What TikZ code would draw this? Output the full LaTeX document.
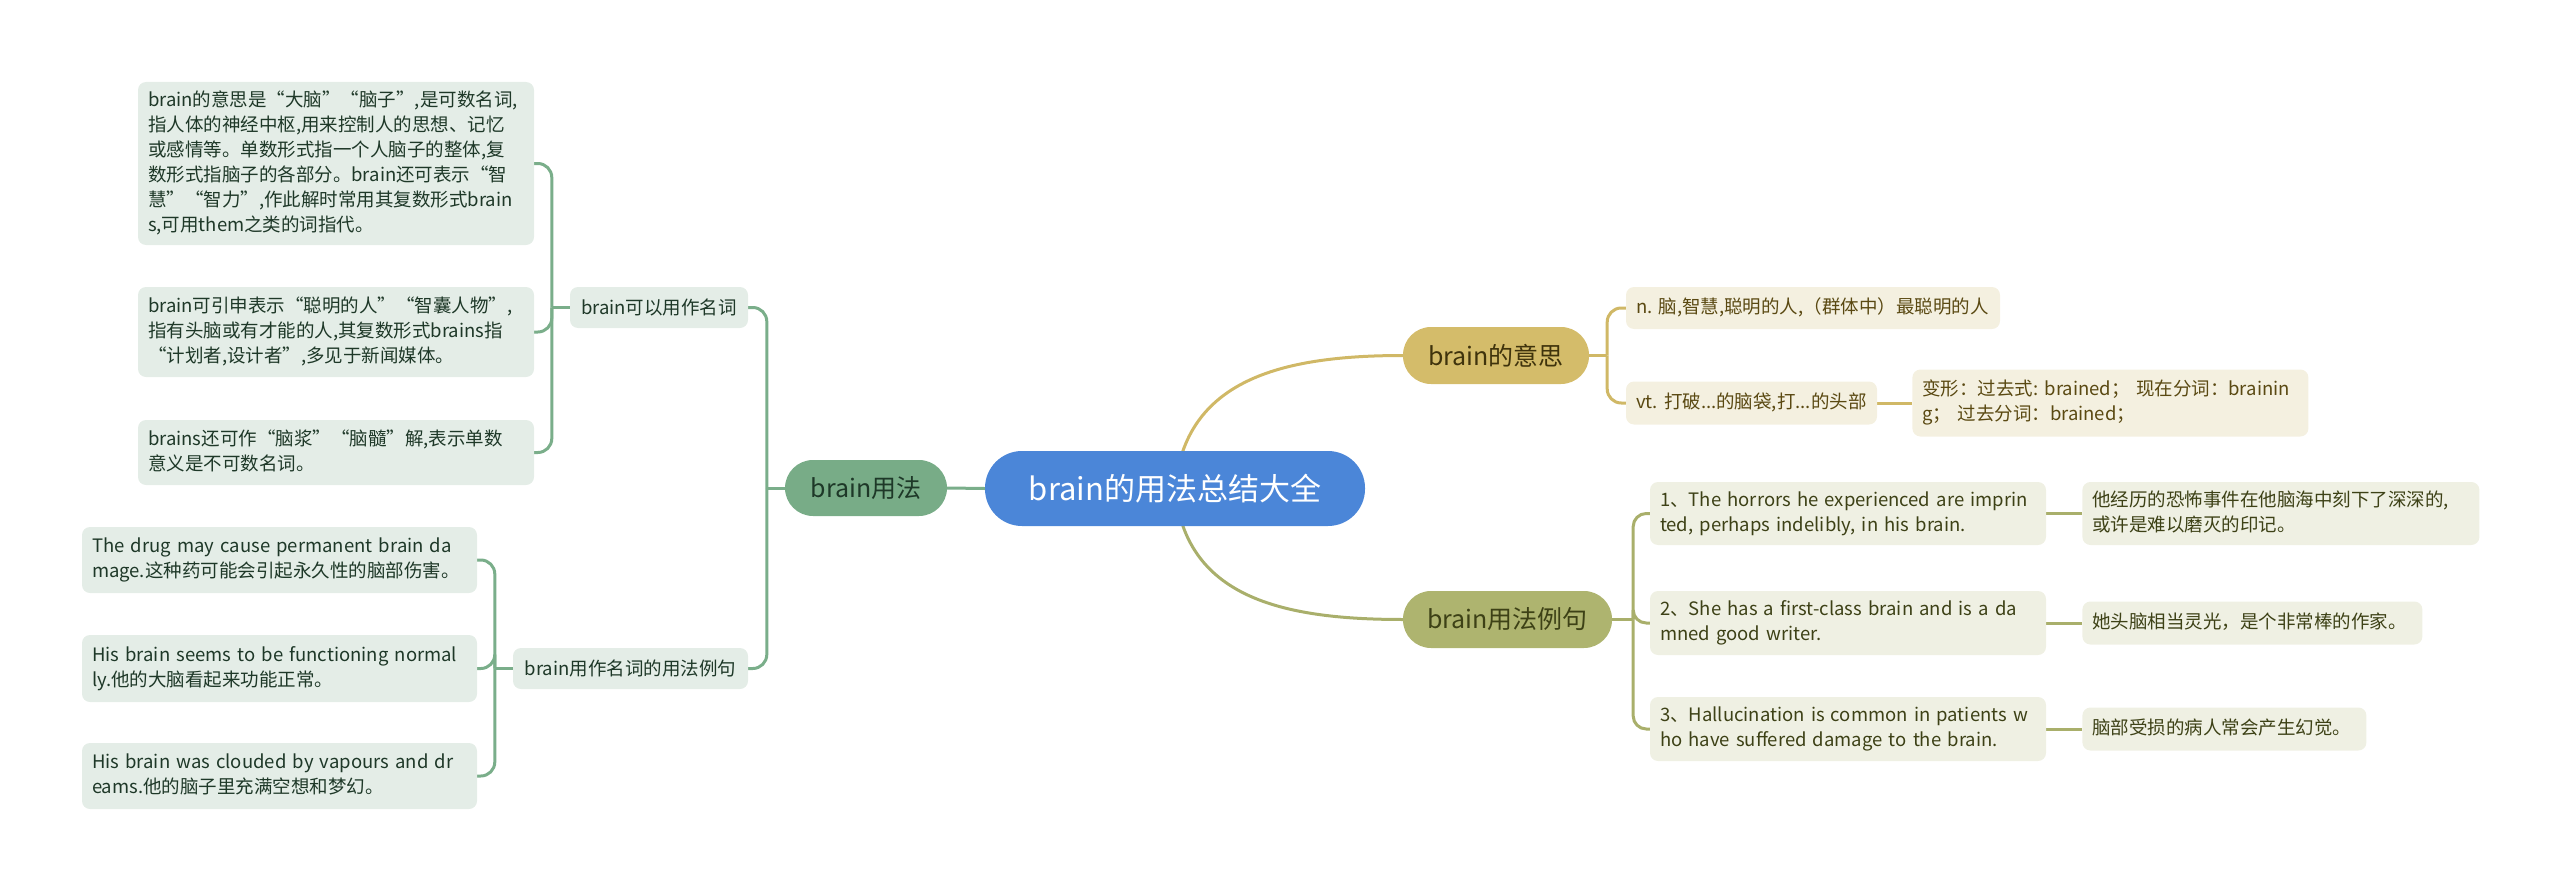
\documentclass[tikz,border=0pt]{standalone}
\usepackage{fontspec}
\setmainfont{Noto Sans CJK SC}
\usepackage{tikz}
\usetikzlibrary{positioning,backgrounds,calc}
\frenchspacing
\definecolor{rootblue}{HTML}{4B86D8}
\definecolor{gmain}{HTML}{78AC87}
\definecolor{gline}{HTML}{7AAE8A}
\definecolor{gsoft}{HTML}{E4EDE7}
\definecolor{gink}{HTML}{1E3828}
\definecolor{ymain}{HTML}{D4BC6A}
\definecolor{yline}{HTML}{D0B866}
\definecolor{ysoft}{HTML}{F4F0E0}
\definecolor{yink}{HTML}{5A4912}
\definecolor{omain}{HTML}{AEB46F}
\definecolor{oline}{HTML}{A9AF6B}
\definecolor{osoft}{HTML}{EFF0E3}
\definecolor{oink}{HTML}{3D4116}
\newcommand{\cardrows}[1]{\noindent\begin{tabular}{@{}l@{}}#1\end{tabular}}
\tikzset{
  pill/.style={rounded corners=28pt,inner sep=0pt,align=center,font=\fontsize{25}{30}\selectfont},
  rootnode/.style={pill,rounded corners=37pt,fill=rootblue,text=white,minimum width=380pt,minimum height=75pt,font=\fontsize{31}{36}\selectfont},
  card/.style={rounded corners=8pt,inner xsep=10pt,inner ysep=0pt,align=left,font=\fontsize{18.5}{25}\selectfont},
  subcard/.style={rounded corners=8pt,inner sep=0pt,align=center,minimum height=41pt,font=\fontsize{18.5}{25}\selectfont},
  gcard/.style={card,fill=gsoft,text=gink},
  ycard/.style={card,fill=ysoft,text=yink},
  ocard/.style={card,fill=osoft,text=oink},
  glink/.style={draw=gline,line width=3pt,rounded corners=14pt},
  ylink/.style={draw=yline,line width=3pt,rounded corners=14pt},
  olink/.style={draw=oline,line width=3pt,rounded corners=13pt}
}
\begin{document}
\begin{tikzpicture}[x=1pt,y=-1pt]
  \useasboundingbox (0,0) rectangle (2560,891);
  \node[rootnode] (root) at (1175,488.5) {brain的用法总结大全};

  \node[pill,fill=gmain,text=gink,minimum width=162pt,minimum height=56pt] (yongfa) at (866,488) {brain用法};
  \node[subcard,fill=gsoft,text=gink,minimum width=178pt] (noun) at (659,307.5) {brain可以用作名词};
  \node[subcard,fill=gsoft,text=gink,minimum width=235pt] (nounex) at (630.5,668.5) {brain用作名词的用法例句};
  \node[gcard,text width=376pt,minimum height=163pt] (def1) at (336,163.5) {\cardrows{brain的意思是“大脑”“脑子”,是可数名词,\\指人体的神经中枢,用来控制人的思想、记忆\\或感情等。单数形式指一个人脑子的整体,复\\数形式指脑子的各部分。brain还可表示“智\\慧”“智力”,作此解时常用其复数形式brain\\s,可用them之类的词指代。}};
  \node[gcard,text width=376pt,minimum height=90pt] (def2) at (336,332) {\cardrows{brain可引申表示“聪明的人”“智囊人物”,\\指有头脑或有才能的人,其复数形式brains指\\“计划者,设计者”,多见于新闻媒体。}};
  \node[gcard,text width=376pt,minimum height=65pt] (def3) at (336,452.5) {\cardrows{brains还可作“脑浆”“脑髓”解,表示单数\\意义是不可数名词。}};
  \node[gcard,text width=375pt,minimum height=66pt] (exa) at (279.5,560) {\cardrows{The drug may cause permanent brain da\\mage.这种药可能会引起永久性的脑部伤害。}};
  \node[gcard,text width=375pt,minimum height=67pt] (exb) at (279.5,668.5) {\cardrows{His brain seems to be functioning normal\\ly.他的大脑看起来功能正常。}};
  \node[gcard,text width=375pt,minimum height=66pt] (exc) at (279.5,776) {\cardrows{His brain was clouded by vapours and dr\\eams.他的脑子里充满空想和梦幻。}};

  \node[pill,fill=ymain,text=yink!70!black,minimum width=186pt,minimum height=57pt] (yisi) at (1496,355.5) {brain的意思};
  \node[ycard,text width=354pt,minimum height=42pt] (mean1) at (1813,308) {\cardrows{n. 脑,智慧,聪明的人,（群体中）最聪明的人}};
  \node[ycard,text width=231pt,minimum height=43pt] (mean2) at (1751.5,403) {\cardrows{vt. 打破...的脑袋,打...的头部}};
  \node[ycard,text width=376pt,minimum height=67pt,right=35pt of mean2] (forms) {\cardrows{变形：过去式: brained； 现在分词：brainin\\g； 过去分词：brained；}};

  \node[pill,fill=omain,text=oink,minimum width=209pt,minimum height=57pt] (liju) at (1507.5,619.5) {brain用法例句};
  \node[ocard,text width=376pt,minimum height=63pt] (s1) at (1848,513.5) {\cardrows{1、The horrors he experienced are imprin\\ted, perhaps indelibly, in his brain.}};
  \node[ocard,text width=376pt,minimum height=64pt] (s2) at (1848,623) {\cardrows{2、She has a first-class brain and is a da\\mned good writer.}};
  \node[ocard,text width=376pt,minimum height=64pt] (s3) at (1848,729) {\cardrows{3、Hallucination is common in patients w\\ho have suffered damage to the brain.}};
  \node[ocard,text width=377pt,minimum height=63pt,right=36pt of s1] (t1) {\cardrows{他经历的恐怖事件在他脑海中刻下了深深的,\\或许是难以磨灭的印记。}};
  \node[ocard,text width=320pt,minimum height=43pt,right=36pt of s2] (t2) {\cardrows{她头脑相当灵光，是个非常棒的作家。}};
  \node[ocard,text width=264pt,minimum height=43pt,right=36pt of s3] (t3) {\cardrows{脑部受损的病人常会产生幻觉。}};

  \begin{scope}[on background layer]
    \draw[glink] (root.west) -- (yongfa.east);
    \draw[ylink] (root.center) .. controls +(10,-108) and +(-123,0) .. (yisi.west);
    \draw[olink] (root.center) .. controls +(10,108) and +(-123,0) .. (liju.west);

    \coordinate (gj) at ($(yongfa.west)+(-18,0)$);
    \draw[glink] (yongfa.west) -- (gj);
    \foreach \n in {noun,nounex} \draw[glink] (gj) |- (\n.east);

    \coordinate (nj) at ($(noun.west)+(-18,0)$);
    \draw[glink] (noun.west) -- (nj);
    \foreach \n in {def1,def2,def3} \draw[glink] (nj) |- (\n.east);

    \coordinate (xj) at ($(nounex.west)+(-18,0)$);
    \draw[glink] (nounex.west) -- (xj);
    \foreach \n in {exa,exb,exc} \draw[glink] (xj) |- (\n.east);

    \coordinate (yj) at ($(yisi.east)+(18,0)$);
    \draw[ylink] (yisi.east) -- (yj);
    \foreach \n in {mean1,mean2} \draw[ylink] (yj) |- (\n.west);
    \draw[ylink] (mean2.east) -- (forms.west);

    \coordinate (oj) at ($(liju.east)+(21,0)$);
    \draw[olink] (liju.east) -- (oj);
    \foreach \n in {s1,s2,s3} \draw[olink] (oj) |- (\n.west);
    \foreach \a/\b in {s1/t1,s2/t2,s3/t3} \draw[olink] (\a.east) -- (\b.west);
  \end{scope}
\end{tikzpicture}
\end{document}
